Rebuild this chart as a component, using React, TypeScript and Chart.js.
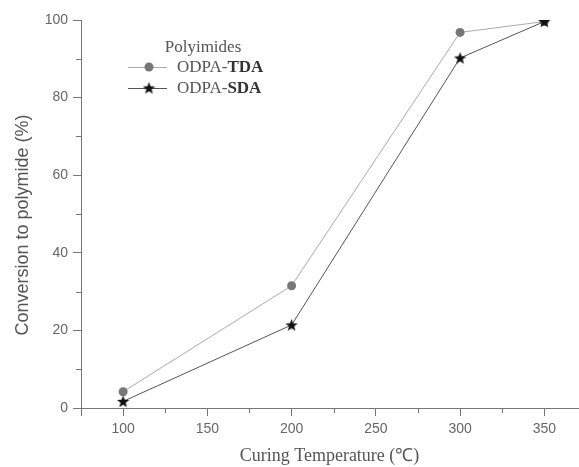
import React, { useEffect, useRef } from "react";
import { Chart, registerables } from "chart.js";

Chart.register(...registerables);

const temperatures = [100, 200, 300, 350];
const tdaValues = [4.2, 31.5, 96.8, 99.6];
const sdaValues = [1.7, 21.4, 90.2, 99.6];
const xMajorTicks = [100, 150, 200, 250, 300, 350];
const xMinorTicks = [125, 175, 225, 275, 325];
const yMinorTicks = [10, 30, 50, 70, 90];
const legendTitle = "Polyimides";
const seriesNames = ["ODPA-", "ODPA-"];
const seriesBold = ["TDA", "SDA"];
const yTitle = "Conversion to polymide (%)";
const xTitle = "Curing Temperature (℃)";

function makeStar(size: number, color: string): HTMLCanvasElement {
  const c = document.createElement("canvas");
  c.width = size;
  c.height = size;
  const ctx = c.getContext("2d")!;
  const cx = size / 2;
  const cy = size / 2 + 0.5;
  const R = size / 2;
  const r = R * 0.42;
  ctx.beginPath();
  for (let i = 0; i < 10; i++) {
    const ang = -Math.PI / 2 + (i * Math.PI) / 5;
    const rad = i % 2 === 0 ? R : r;
    const px = cx + rad * Math.cos(ang);
    const py = cy + rad * Math.sin(ang);
    if (i === 0) ctx.moveTo(px, py);
    else ctx.lineTo(px, py);
  }
  ctx.closePath();
  ctx.fillStyle = color;
  ctx.fill();
  return c;
}

export default function App() {
  const canvasRef = useRef<HTMLCanvasElement | null>(null);

  useEffect(() => {
    const star = makeStar(13, "#111");
    const axisColor = "#777";
    const X_MIN = 75;
    const X_MAX = 370;

    const decor = {
      id: "decor",
      afterDraw(chart: any) {
        const ctx = chart.ctx;
        const xs = chart.scales.x;
        const ys = chart.scales.y;
        const area = chart.chartArea;
        ctx.save();
        ctx.strokeStyle = axisColor;
        ctx.lineWidth = 1;
        xMinorTicks.forEach((v) => {
          const px = Math.round(xs.getPixelForValue(v)) + 0.5;
          ctx.beginPath();
          ctx.moveTo(px, area.bottom);
          ctx.lineTo(px, area.bottom + 5);
          ctx.stroke();
        });
        yMinorTicks.forEach((v) => {
          const py = Math.round(ys.getPixelForValue(v)) + 0.5;
          ctx.beginPath();
          ctx.moveTo(area.left - 5, py);
          ctx.lineTo(area.left, py);
          ctx.stroke();
        });

        // y axis title
        ctx.save();
        ctx.translate(23, area.top + (area.bottom - area.top) / 2 + 11);
        ctx.rotate(-Math.PI / 2);
        ctx.fillStyle = "#555";
        ctx.font = "18px 'Liberation Sans', Arial, sans-serif";
        ctx.textAlign = "center";
        ctx.textBaseline = "middle";
        ctx.fillText(yTitle, 0, 0);
        ctx.restore();

        // legend
        const lx0 = area.left + 47;
        const lx1 = area.left + 86;
        const mx = area.left + 68;
        const tx = area.left + 96;
        const rows = [area.top + 47, area.top + 68];
        ctx.fillStyle = "#555";
        ctx.textBaseline = "middle";
        ctx.textAlign = "center";
        ctx.font = "17px 'Liberation Serif', serif";
        ctx.fillText(legendTitle, area.left + 122, area.top + 28);
        const lineColors = ["#aaa", "#555"];
        rows.forEach((ry, i) => {
          ctx.strokeStyle = lineColors[i];
          ctx.lineWidth = 1;
          ctx.beginPath();
          ctx.moveTo(lx0, ry + 0.5);
          ctx.lineTo(lx1, ry + 0.5);
          ctx.stroke();
          if (i === 0) {
            ctx.fillStyle = "#777";
            ctx.beginPath();
            ctx.arc(mx, ry, 4.5, 0, Math.PI * 2);
            ctx.fill();
          } else {
            ctx.drawImage(star, mx - star.width / 2, ry - star.height / 2);
          }
          ctx.textAlign = "left";
          ctx.fillStyle = "#555";
          ctx.font = "17px 'Liberation Serif', serif";
          ctx.fillText(seriesNames[i], tx, ry + 1);
          const w = ctx.measureText(seriesNames[i]).width;
          ctx.fillStyle = "#333";
          ctx.font = "bold 17px 'Liberation Serif', serif";
          ctx.fillText(seriesBold[i], tx + w, ry + 1);
        });
        ctx.restore();
      },
    };

    const chart = new Chart(canvasRef.current!, {
      type: "line",
      data: {
        datasets: [
          {
            label: "ODPA-SDA",
            data: temperatures.map((t, i) => ({ x: t, y: sdaValues[i] })),
            borderColor: "#555",
            borderWidth: 1,
            pointStyle: star as any,
            pointRadius: 6,
            order: 0,
          },
          {
            label: "ODPA-TDA",
            data: temperatures.map((t, i) => ({ x: t, y: tdaValues[i] })),
            borderColor: "#aaa",
            borderWidth: 1,
            pointStyle: "circle",
            pointRadius: 4.5,
            pointBackgroundColor: "#777",
            pointBorderColor: "#777",
            pointBorderWidth: 0,
            order: 1,
          },
        ],
      },
      options: {
        animation: false,
        responsive: true,
        maintainAspectRatio: false,
        layout: {
          autoPadding: false,
          padding: { top: 20, right: 1, left: 0, bottom: 0 },
        },
        plugins: {
          legend: { display: false },
          tooltip: { enabled: false },
        },
        scales: {
          x: {
            type: "linear",
            min: X_MIN,
            max: X_MAX,
            afterFit: (s: any) => {
              s.height = 59;
              s.paddingLeft = 0;
              s.paddingRight = 0;
            },
            afterBuildTicks: (s: any) => {
              s.ticks = [X_MIN, ...xMajorTicks, X_MAX].map((v) => ({ value: v }));
            },
            border: { display: true, color: axisColor, width: 1 },
            grid: {
              drawOnChartArea: false,
              drawTicks: true,
              tickLength: 8,
              color: (ctx: any) =>
                ctx.tick && ctx.tick.value === X_MAX ? "rgba(0,0,0,0)" : axisColor,
            },
            ticks: {
              padding: 5,
              color: "#666",
              font: { family: "'Liberation Sans', Arial, sans-serif", size: 14 },
              callback: (v: any) =>
                Number(v) % 50 === 0 && Number(v) >= 100 ? String(v) : "",
            },
            title: {
              display: true,
              text: xTitle,
              color: "#555",
              font: { family: "'Liberation Serif', serif", size: 18 },
              padding: { top: 0, bottom: 0 },
            },
          },
          y: {
            type: "linear",
            min: 0,
            max: 100,
            afterFit: (s: any) => {
              s.width = 81;
            },
            border: { display: true, color: axisColor, width: 1 },
            grid: {
              drawOnChartArea: false,
              drawTicks: true,
              tickLength: 8,
              color: axisColor,
            },
            ticks: {
              stepSize: 20,
              padding: 5,
              color: "#666",
              font: { family: "'Liberation Sans', Arial, sans-serif", size: 14 },
            },
          },
        },
      },
      plugins: [decor],
    });
    return () => chart.destroy();
  }, []);

  return (
    <div
      style={{
        position: "fixed",
        left: 0,
        top: 0,
        width: 579,
        height: 467,
        background: "#fff",
      }}
    >
      <canvas ref={canvasRef} />
    </div>
  );
}
